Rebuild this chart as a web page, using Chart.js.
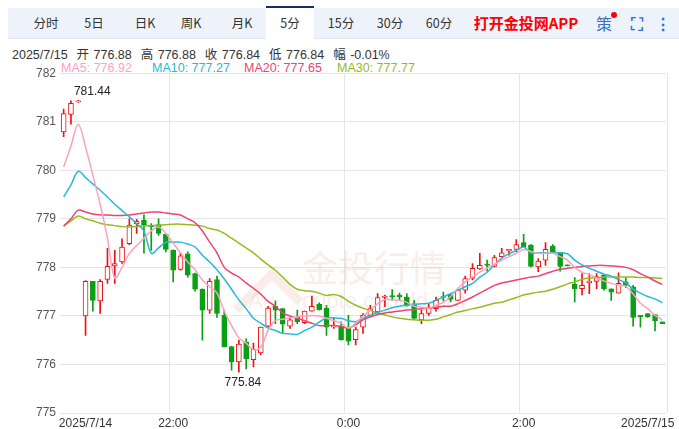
<!DOCTYPE html>
<html><head><meta charset="utf-8">
<script src="https://cdn.jsdelivr.net/npm/chart.js@4.4.0/dist/chart.umd.min.js"></script>
<style>
body{margin:0;width:679px;height:429px;overflow:hidden;background:#fff;font-family:"Liberation Sans","Noto Sans CJK SC",sans-serif;position:relative}
#bar{position:absolute;left:8px;top:8px;width:671px;height:30px;background:#eef3fb;border-bottom:1px solid #dfe6f2}
.t{position:absolute;top:0;height:30px;line-height:30px;font-size:12.5px;color:#333;transform:translateX(-50%);font-family:"Noto Sans CJK SC",sans-serif}
.act{background:#fff;border-top:2px solid #1a2a6c;height:31px;width:48px;text-align:center;top:-2px}
#info{position:absolute;left:12px;top:44px;font-size:12.5px;color:#333;white-space:nowrap;word-spacing:1px}
.ma{position:absolute;top:61px;font-size:12.5px;white-space:nowrap}
#wrap{position:absolute;left:0;top:62px;width:679px;height:367px}
</style></head><body>
<div id="bar">
<div class="t" style="left:38px">分时</div>
<div class="t" style="left:86px">5日</div>
<div class="t" style="left:137px">日K</div>
<div class="t" style="left:183px">周K</div>
<div class="t" style="left:234px">月K</div>
<div class="t act" style="left:282px">5分</div>
<div class="t" style="left:333px">15分</div>
<div class="t" style="left:382px">30分</div>
<div class="t" style="left:431px">60分</div>
<div class="t" style="left:518px;color:#f00;font-weight:bold;font-size:15px">打开金投网APP</div>
<div class="t" style="left:596px;color:#3a6fc4;font-size:16px">策<span style="position:absolute;top:4px;right:-5px;width:6px;height:6px;border-radius:3px;background:#f00"></span></div>
<div class="t" style="left:629px;color:#2a6fd6;font-size:17px;font-weight:bold">⛶</div>
<div class="t" style="left:655px;color:#2a6fd6;font-size:16px;font-weight:bold">⋮</div>
</div>
<div id="info">2025/7/15&nbsp; 开 776.88&nbsp; 高 776.88&nbsp; 收 776.84&nbsp; 低 776.84&nbsp; 幅 -0.01%</div>
<div class="ma" style="left:61px;color:#f9a3bf">MA5: 776.92</div>
<div class="ma" style="left:152px;color:#27b9d6">MA10: 777.27</div>
<div class="ma" style="left:244px;color:#ec4573">MA20: 777.65</div>
<div class="ma" style="left:337px;color:#97bb1f">MA30: 777.77</div>
<div id="wrap"><canvas id="c"></canvas></div>
<script>
const opens=[780.79,781.15,781.41,777.0,777.71,777.31,777.75,778.03,778.11,778.49,778.90,778.97,778.87,778.88,778.68,778.35,777.96,778.28,777.87,777.55,777.12,777.75,777.01,776.37,776.05,776.46,776.10,776.24,776.79,777.2,777.15,776.79,776.97,776.86,777.10,777.24,777.16,776.77,776.79,776.75,776.51,776.77,777.01,777.08,777.38,777.42,777.43,777.39,777.25,776.92,777.05,777.15,777.40,777.43,777.32,777.53,777.77,777.97,778.07,778.02,778.22,778.34,778.37,778.51,778.46,778.01,778.15,778.44,778.31,778.05,777.65,777.56,777.68,777.71,777.84,777.56,777.47,777.70,777.60,777.01,777.05,777.03,776.88];
const highs=[781.26,781.43,781.44,777.73,777.71,777.75,778.39,778.35,778.59,779.0,778.99,779.08,778.9,779.0,778.69,778.36,778.29,778.32,777.88,777.56,777.77,777.82,777.12,776.37,776.50,776.53,776.44,776.77,777.2,777.31,777.15,776.98,777.12,777.10,777.41,777.27,777.22,776.95,776.88,777.01,776.77,777.05,777.22,777.46,777.43,777.54,777.47,777.46,777.32,777.12,777.24,777.39,777.49,777.46,777.54,777.82,778.08,778.29,778.15,778.25,778.39,778.37,778.57,778.68,778.47,778.18,778.51,778.47,778.31,778.05,777.79,777.87,777.87,777.87,777.84,777.56,777.89,777.79,777.63,777.01,777.05,777.03,776.88];
const lows=[780.69,780.95,781.40,776.60,777.10,777.05,777.67,777.67,778.08,778.47,778.70,778.29,778.35,778.66,778.32,777.70,777.94,777.80,777.51,776.50,777.05,776.97,776.36,775.88,775.84,775.91,775.95,776.20,776.77,776.84,776.64,776.74,776.84,776.84,777.1,777.12,776.60,776.74,776.50,776.40,776.40,776.64,776.98,777.08,777.19,777.32,777.32,777.20,776.95,776.84,777.01,777.10,777.31,777.29,777.32,777.47,777.74,777.96,777.92,778.01,778.21,778.25,778.32,778.42,778.01,777.91,778.04,778.28,777.92,778.03,777.29,777.43,777.46,777.56,777.53,777.32,777.47,777.58,776.79,776.77,776.97,776.69,776.84];
const closes=[781.17,781.38,781.41,777.71,777.32,777.71,778.02,778.08,778.42,778.87,778.95,778.87,778.84,778.70,778.37,777.94,778.24,777.84,777.55,777.12,777.71,777.05,776.36,776.05,776.42,776.12,776.31,776.77,777.16,777.12,776.83,776.92,776.88,777.10,777.20,777.13,776.77,776.79,776.51,776.48,776.72,777.01,777.15,777.38,777.41,777.39,777.39,777.22,776.95,777.05,777.17,777.32,777.38,777.34,777.53,777.77,777.98,778.04,778.04,778.20,778.30,778.37,778.47,778.42,778.02,778.13,778.37,778.30,778.02,778.03,777.56,777.63,777.72,777.81,777.56,777.49,777.67,777.63,776.97,776.98,776.98,776.90,776.84];
const ma5=[780.07,780.50,780.95,780.48,779.9,779.3,778.6,777.78,778.0,778.29,778.45,778.6,778.75,778.83,778.7,778.5,778.3,778.11,777.95,777.74,777.6,777.47,777.1,776.8,776.55,776.44,776.3,776.36,776.7,776.91,776.93,776.96,776.98,777.0,777.01,777.0,776.95,776.9,776.85,776.75,776.85,777.0,777.12,777.25,777.34,777.33,777.32,777.28,777.2,777.18,777.16,777.22,777.28,777.4,777.57,777.7,777.8,777.9,777.98,778.06,778.15,778.22,778.29,778.37,778.33,778.29,778.29,778.29,778.22,778.15,778.0,777.9,777.85,777.78,777.72,777.67,777.64,777.61,777.45,777.26,777.15,777.01,776.92];
const ma10=[779.45,779.7,779.98,779.85,779.72,779.59,779.45,779.3,779.17,779.04,778.9,778.75,778.29,778.4,778.52,778.52,778.52,778.48,778.42,778.25,778.11,777.95,777.76,777.55,777.33,777.15,776.95,776.85,776.75,776.7,776.64,776.63,776.62,776.7,776.77,776.87,776.96,776.96,776.95,776.9,776.88,776.95,777.01,777.07,777.12,777.17,777.2,777.22,777.24,777.25,777.26,777.32,777.39,777.46,777.53,777.6,777.67,777.8,777.9,778.05,778.19,778.28,778.35,778.42,778.3,778.3,778.3,778.3,778.3,778.28,778.15,778.05,777.98,777.92,777.86,777.82,777.75,777.68,777.55,777.47,777.4,777.35,777.27];
const ma20=[778.85,779.0,779.18,779.14,779.1,779.08,779.08,779.07,779.07,779.08,779.1,779.12,779.14,779.14,779.12,779.1,779.08,779.0,778.92,778.75,778.52,778.3,778.0,777.88,777.8,777.68,777.57,777.45,777.3,777.2,777.06,777.0,776.95,776.9,776.85,776.8,776.8,776.8,776.78,776.75,776.82,776.92,776.98,777.03,777.06,777.08,777.1,777.12,777.13,777.15,777.16,777.18,777.2,777.2,777.25,777.32,777.39,777.47,777.55,777.63,777.68,777.71,777.74,777.77,777.8,777.82,777.87,777.92,777.96,777.98,778.0,778.02,778.03,778.04,778.04,778.03,778.02,778.0,777.95,777.87,777.8,777.72,777.65];
const ma30=[778.85,778.96,779.06,779.0,778.96,778.91,778.88,778.86,778.84,778.83,778.84,778.85,778.86,778.87,778.88,778.89,778.89,778.88,778.87,778.85,778.8,778.77,778.7,778.6,778.5,778.4,778.3,778.17,778.05,777.94,777.8,777.65,777.55,777.52,777.51,777.47,777.42,777.44,777.4,777.3,777.22,777.16,777.11,777.06,777.02,776.98,776.95,776.93,776.92,776.91,776.91,776.93,776.98,777.03,777.08,777.11,777.15,777.18,777.22,777.26,777.28,777.33,777.38,777.43,777.46,777.49,777.51,777.55,777.6,777.66,777.7,777.75,777.78,777.79,777.8,777.8,777.8,777.8,777.8,777.79,777.79,777.78,777.77];
const tickLabels={3:'2025/7/14',15:'22:00',39:'0:00',63:'2:00',80:'2025/7/15'};
const yTicks=[775,776,777,778,779,780,781,782];

const cats=opens.map((_,i)=>String(i));
const RED='#f01010',GREEN='#0a9f14';
const colr=opens.map((o,i)=>closes[i]>=o?RED:GREEN);
const fill=opens.map((o,i)=>closes[i]>=o?'#ffffff':GREEN);
const line=(d,c)=>({type:'line',data:d,borderColor:c,borderWidth:1.5,pointRadius:0,tension:0.35,order:0});
const ann={id:'ann',afterDatasetsDraw(ch){
 const c=ch.ctx,x=ch.scales.x,y=ch.scales.y;
 let hi=0,lo=0;highs.forEach((v,i)=>{if(v>highs[hi])hi=i});lows.forEach((v,i)=>{if(v<lows[lo])lo=i});
 c.save();c.font='12px "Liberation Sans",sans-serif';c.fillStyle='#222';c.textAlign='center';
 c.fillText(highs[hi].toFixed(2),x.getPixelForValue(hi)+14,y.getPixelForValue(highs[hi])-5);
 c.textBaseline='top';c.fillText(lows[lo].toFixed(2),x.getPixelForValue(lo)+4,y.getPixelForValue(lows[lo])+4);
 c.restore();},
 beforeDatasetsDraw(ch){const c=ch.ctx,a=ch.chartArea;c.save();
 c.strokeStyle='#e6e6e6';c.lineWidth=1;c.beginPath();c.moveTo(a.right+1.5,a.top);c.lineTo(a.right+1.5,a.bottom);c.stroke();
 c.fillStyle='rgba(225,140,120,0.17)';c.strokeStyle='rgba(225,140,120,0.17)';c.lineWidth=9;
 c.beginPath();c.moveTo(236,248);c.lineTo(272,212);c.lineTo(300,240);c.stroke();
 c.font='36px "Noto Sans CJK SC"';c.fillText('金投行情',302,220);
 c.font='22px "Liberation Sans"';c.fillText('Au',248,246);c.fillText('quote.cngold.org',302,246);c.restore();}};
new Chart(document.getElementById('c'),{
 data:{labels:cats,datasets:[
  line(ma5,'#f9a3bf'),line(ma10,'#27b9d6'),line(ma20,'#ec4573'),line(ma30,'#97bb1f'),
  {type:'bar',data:lows.map((l,i)=>[l,highs[i]]),backgroundColor:colr,barThickness:1,grouped:false,order:2},
  {type:'bar',data:opens.map((o,i)=>[o,closes[i]]),backgroundColor:fill,borderColor:colr,borderWidth:1,borderSkipped:false,barThickness:5,minBarLength:1,grouped:false,order:1}
 ]},
 options:{animation:false,responsive:true,maintainAspectRatio:false,
  layout:{padding:{top:11,right:13,left:0,bottom:0}},
  plugins:{legend:{display:false},tooltip:{enabled:false}},
  scales:{
   x:{offset:true,grid:{color:(c)=>[15,39,63].includes(c.index)?'#e6e6e6':'rgba(0,0,0,0)',drawTicks:false},border:{display:false},
      ticks:{autoSkip:false,maxRotation:0,padding:3,color:'#333',font:{size:12,family:'Liberation Sans'},callback:(v,i)=>tickLabels[i]||''},
      afterFit(s){s.height=16}},
   y:{min:775,max:782,afterBuildTicks(s){s.ticks=yTicks.map(v=>({value:v}))},
      grid:{color:'#e6e6e6',drawTicks:false},border:{display:false},
      ticks:{color:'#555',padding:4,font:{size:12,family:'Liberation Sans'}},afterFit(s){s.width=60}}
  }},
 plugins:[ann]});
</script></body></html>
